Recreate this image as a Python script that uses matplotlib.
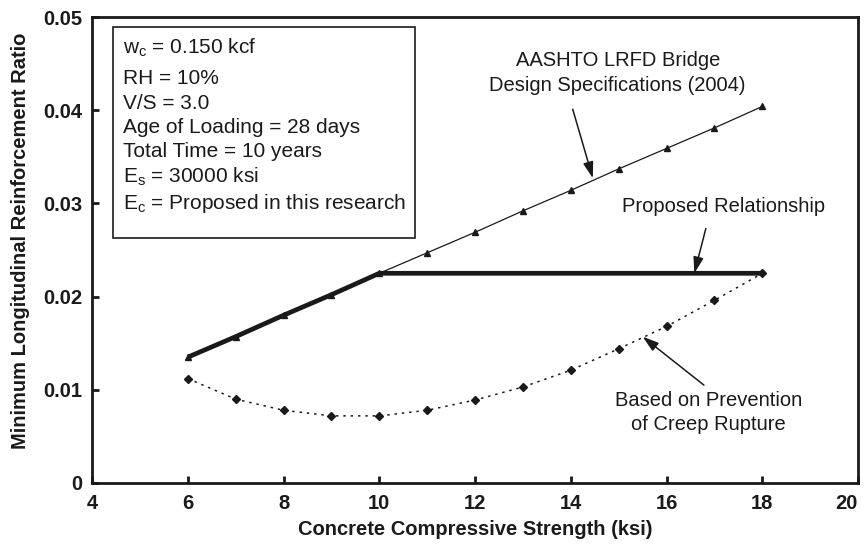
import numpy as np
import matplotlib
matplotlib.use("Agg")
import matplotlib.pyplot as plt
from matplotlib.patches import Rectangle

plt.rcParams['font.family'] = ['Liberation Sans', 'DejaVu Sans']
plt.rcParams['mathtext.default'] = 'regular'

fc = [6, 7, 8, 9, 10, 11, 12, 13, 14, 15, 16, 17, 18]
aashto = [0.0135, 0.0157, 0.0180, 0.0202, 0.0225, 0.0247, 0.0269,
          0.0292, 0.0314, 0.0337, 0.0359, 0.0381, 0.0404]
creep = [0.0112, 0.0090, 0.0078, 0.0072, 0.0072, 0.0078, 0.0089,
         0.0103, 0.0121, 0.0144, 0.0168, 0.0196, 0.0225]
prop_x = [6, 7, 8, 9, 10, 18]
prop_y = [0.0135, 0.0157, 0.0180, 0.0202, 0.0225, 0.0225]

box_lines = ['w$_{c}$ = 0.150 kcf',
             'RH = 10%',
             'V/S = 3.0',
             'Age of Loading = 28 days',
             'Total Time = 10 years',
             'E$_{s}$ = 30000 ksi',
             'E$_{c}$ = Proposed in this research']
# baselines of the box lines, in axes fraction
box_y = [0.9216, 0.8572, 0.8026, 0.7521, 0.6985, 0.6438, 0.5869]

ink = '#1a1a1a'
fs = 14.5

fig = plt.figure(figsize=(8.65, 5.45), dpi=100)
ax = fig.add_axes([0.1064, 0.1138, 0.8856, 0.855])

ax.plot(prop_x, prop_y, color=ink, lw=3.4, solid_capstyle='butt', zorder=2)
ax.plot(fc, aashto, color=ink, lw=0.9, marker='^', ms=5, zorder=3)
ax.plot(fc, creep, color=ink, lw=1.1, ls=(0, (1.6, 3.2)),
        marker='D', ms=4, zorder=3)

ax.set_xlim(4, 20)
ax.set_ylim(0, 0.05)
ax.set_xticks(range(4, 21, 2))
ax.set_yticks([0, 0.01, 0.02, 0.03, 0.04, 0.05])
ax.set_yticklabels(['0', '0.01', '0.02', '0.03', '0.04', '0.05'])
ax.tick_params(direction='in', length=5, width=2, labelsize=fs, colors=ink)
ax.tick_params(axis='x', pad=8)
ax.tick_params(axis='y', pad=7)
for lbl in ax.get_xticklabels() + ax.get_yticklabels():
    lbl.set_fontweight('bold')
ax.get_xticklabels()[-1].set_horizontalalignment('right')
for s in ax.spines.values():
    s.set_linewidth(2)
    s.set_color(ink)

ax.set_xlabel('Concrete Compressive Strength (ksi)', fontsize=fs,
              fontweight='bold', labelpad=5, color=ink)
ax.set_ylabel('Minimum Longitudinal Reinforcement Ratio', fontsize=fs,
              fontweight='bold', color=ink, va='center')
ax.yaxis.set_label_coords(-0.094, 0.52)

# input parameters box
ax.add_patch(Rectangle((4.44, 0.0263), 6.3, 0.0226, fill=False,
                       lw=1.2, ec=ink, zorder=4))
for txt, yy in zip(box_lines, box_y):
    ax.text(4.64, yy, txt, transform=ax.get_xaxis_transform(),
            fontsize=15, va='baseline', ha='left', color=ink, zorder=5)

arrow = dict(arrowstyle='-|>,head_length=0.7,head_width=0.22', color=ink,
             lw=1.1, mutation_scale=14, shrinkA=0, shrinkB=0)

ax.text(14.98, 0.0440, 'AASHTO LRFD Bridge\nDesign Specifications (2004)',
        ha='center', va='center', fontsize=fs, color=ink, linespacing=1.35)
ax.annotate('', xy=(14.46, 0.0327), xytext=(14.04, 0.0401), arrowprops=arrow)

ax.text(17.2, 0.0297, 'Proposed Relationship', ha='center', va='center',
        fontsize=fs, color=ink)
ax.annotate('', xy=(16.58, 0.0225), xytext=(16.82, 0.0273), arrowprops=arrow)

ax.text(16.88, 0.0076, 'Based on Prevention\nof Creep Rupture',
        ha='center', va='center', fontsize=fs, color=ink, linespacing=1.35)
ax.annotate('', xy=(15.50, 0.0157), xytext=(16.78, 0.0105), arrowprops=arrow)

fig.savefig('out.png', dpi=100)
